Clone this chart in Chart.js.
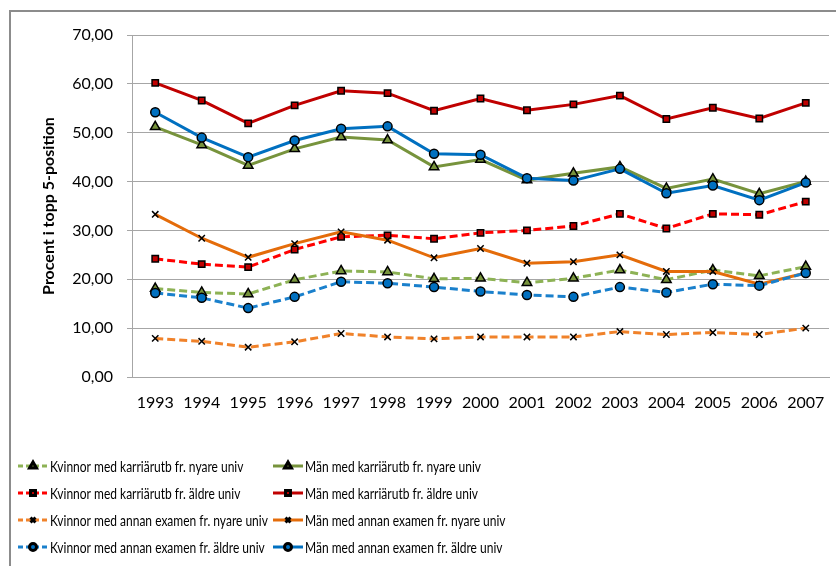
<!DOCTYPE html>
<html lang="sv">
  <head>
    <meta charset="UTF-8" />
    <title>Procent i topp 5-position</title>
    <script src="https://cdn.jsdelivr.net/npm/chart.js"></script>
    <style>
      body {
        margin: 0;
        background: #fff;
      }
      .wrap {
        width: 836px;
        height: 566px;
      }
    </style>
  </head>
  <body>
    <div class="wrap">
      <canvas id="chart" width="836" height="566"></canvas>
    </div>

    <script>
      const years = ["1993", "1994", "1995", "1996", "1997", "1998", "1999", "2000",
        "2001", "2002", "2003", "2004", "2005", "2006", "2007"];
      const yTicks = [0, 10, 20, 30, 40, 50, 60, 70];

      const kvKarrNyare = [18.1, 17.3, 17.0, 19.9, 21.7, 21.5, 20.1, 20.2, 19.3, 20.2, 21.9, 19.9, 21.9, 20.7, 22.6];
      const manKarrNyare = [51.2, 47.5, 43.3, 46.7, 49.1, 48.5, 43.0, 44.5, 40.3, 41.7, 43.0, 38.6, 40.5, 37.5, 40.0];
      const kvKarrAldre = [24.2, 23.1, 22.5, 26.1, 28.7, 29.0, 28.3, 29.5, 30.0, 30.9, 33.4, 30.4, 33.4, 33.2, 35.9];
      const manKarrAldre = [60.2, 56.6, 51.9, 55.6, 58.6, 58.1, 54.5, 57.0, 54.6, 55.8, 57.6, 52.8, 55.1, 52.9, 56.1];
      const kvAnnanNyare = [7.9, 7.3, 6.1, 7.2, 8.9, 8.2, 7.8, 8.2, 8.2, 8.2, 9.3, 8.7, 9.1, 8.7, 10.0];
      const manAnnanNyare = [33.3, 28.4, 24.5, 27.3, 29.7, 28.0, 24.4, 26.3, 23.3, 23.6, 25.0, 21.6, 21.6, 19.0, 21.3];
      const kvAnnanAldre = [17.2, 16.2, 14.1, 16.4, 19.5, 19.2, 18.4, 17.5, 16.8, 16.4, 18.4, 17.3, 19.0, 18.7, 21.3];
      const manAnnanAldre = [54.2, 49.0, 45.0, 48.4, 50.8, 51.3, 45.7, 45.5, 40.7, 40.2, 42.6, 37.6, 39.2, 36.2, 39.8];

      const FONT = "Lato";
      const DASH = [8, 4];

      function series(label, data, color, dashed, style, fill) {
        return {
          label,
          data,
          borderColor: color,
          borderWidth: 3,
          borderDash: dashed ? DASH : [],
          tension: 0,
          pointStyle: style,
          pointRadius: style === "triangle" ? 5.5 : 4.5,
          pointBorderWidth: 1.5,
          pointBorderColor: "#000",
          pointBackgroundColor: fill,
          pointHoverRadius: 5,
          fill: false,
        };
      }

      const datasets = [
        series("Kvinnor med karriärutb fr. nyare univ", kvKarrNyare, "#8DB255", true, "triangle", "#77933C"),
        series("Män med karriärutb fr. nyare univ", manKarrNyare, "#77933C", false, "triangle", "#77933C"),
        series("Kvinnor med karriärutb fr. äldre univ", kvKarrAldre, "#FF0000", true, "rect", "#C00000"),
        series("Män med karriärutb fr. äldre univ", manKarrAldre, "#C00000", false, "rect", "#C00000"),
        series("Kvinnor med annan examen fr. nyare univ", kvAnnanNyare, "#F0822A", true, "crossRot", "#000"),
        series("Män med annan examen fr. nyare univ", manAnnanNyare, "#E46C0A", false, "crossRot", "#000"),
        series("Kvinnor med annan examen fr. äldre univ", kvAnnanAldre, "#1A80CC", true, "circle", "#0070C0"),
        series("Män med annan examen fr. äldre univ", manAnnanAldre, "#0070C0", false, "circle", "#0070C0"),
      ];
      // later series on top, like the original
      datasets.forEach((d, i) => (d.order = datasets.length - i));

      // frame + two-column legend
      const extras = {
        id: "extras",
        afterDraw(chart) {
          const ctx = chart.ctx;
          ctx.save();
          ctx.strokeStyle = "#8c8c8c";
          ctx.lineWidth = 2;
          ctx.setLineDash([]);
          ctx.beginPath();
          ctx.moveTo(10, 566);
          ctx.lineTo(10, 11);
          ctx.lineTo(836, 11);
          ctx.stroke();

          ctx.font = "15px " + FONT;
          ctx.textBaseline = "middle";
          chart.data.datasets.forEach((d, i) => {
            const x = i % 2 ? 273 : 18;
            const y = 466 + Math.floor(i / 2) * 27;
            ctx.strokeStyle = d.borderColor;
            ctx.lineWidth = 3;
            ctx.setLineDash(d.borderDash.length ? [5, 3] : []);
            ctx.beginPath();
            ctx.moveTo(x, y);
            ctx.lineTo(x + 30, y);
            ctx.stroke();
            ctx.setLineDash([]);
            ctx.fillStyle = d.pointBackgroundColor;
            ctx.strokeStyle = "#000";
            Chart.helpers.drawPoint(ctx, {
              pointStyle: d.pointStyle,
              radius: d.pointStyle === "triangle" ? 4 : 3.5,
              borderWidth: 1,
              rotation: 0,
            }, x + 15, y);
            // Calibri-like narrow text: squeeze horizontally
            ctx.save();
            ctx.translate(x + 32, y + 1);
            ctx.scale(0.8, 1);
            ctx.fillStyle = "#000";
            ctx.fillText(d.label, 0, 0);
            ctx.restore();
          });
          ctx.restore();
        },
      };

      new Chart(document.getElementById("chart"), {
        type: "line",
        data: { labels: years, datasets },
        options: {
          responsive: false,
          animation: false,
          layout: { padding: { left: 35, top: 35, right: 6, bottom: 149 } },
          plugins: { legend: { display: false }, tooltip: { enabled: false } },
          scales: {
            x: {
              offset: true,
              grid: { display: false },
              border: { display: true, color: "#a6a6a6", width: 1 },
              ticks: { color: "#000", font: { family: FONT, size: 16 }, padding: 8, maxRotation: 0, autoSkip: false },
              afterFit: (s) => { s.height = 40; },
            },
            y: {
              min: 0,
              max: 70,
              afterBuildTicks: (s) => { s.ticks = yTicks.map((v) => ({ value: v })); },
              grid: { color: "#a6a6a6", lineWidth: 1, tickLength: 5 },
              border: { color: "#a6a6a6", width: 1 },
              ticks: {
                color: "#000",
                font: { family: FONT, size: 16 },
                padding: 14,
                callback: (v) => v.toFixed(2).replace(".", ","),
              },
              title: {
                display: true,
                text: "Procent i topp 5-position",
                color: "#000",
                font: { family: FONT, size: 16, weight: "bold" },
                padding: { top: 4, bottom: 4 },
              },
              afterFit: (s) => { s.width = 97; },
            },
          },
        },
        plugins: [extras],
      });
    </script>
  </body>
</html>
